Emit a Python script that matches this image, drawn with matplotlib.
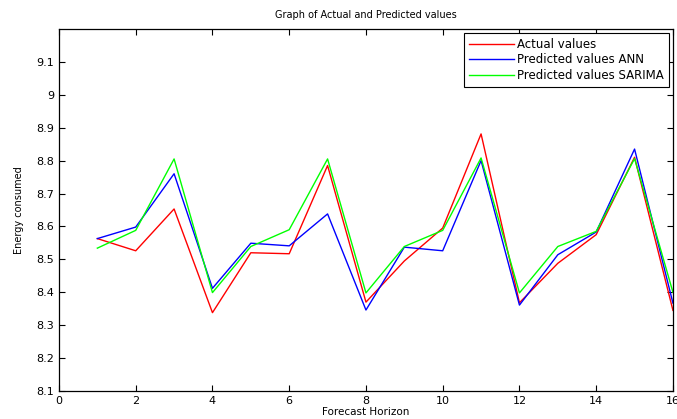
import matplotlib
matplotlib.use("Agg")
import matplotlib.pyplot as plt

horizon = list(range(1, 17))
actual = [8.563, 8.526, 8.653, 8.338, 8.520, 8.517, 8.785, 8.370, 8.495, 8.595,
          8.881, 8.368, 8.488, 8.575, 8.810, 8.345]
ann = [8.563, 8.598, 8.760, 8.412, 8.549, 8.541, 8.638, 8.346, 8.537, 8.526,
       8.800, 8.361, 8.514, 8.583, 8.835, 8.367]
sarima = [8.534, 8.588, 8.805, 8.399, 8.539, 8.590, 8.805, 8.398, 8.539, 8.588,
          8.808, 8.398, 8.539, 8.585, 8.806, 8.400]

plt.rcParams['font.family'] = ['DejaVu Sans']

fig = plt.figure(figsize=(6.77, 4.19), dpi=100)
ax = fig.add_axes([0.0871, 0.0668, 0.9069, 0.8642])

ax.plot(horizon, actual, color='#ff0000', lw=1.0, label='Actual values')
ax.plot(horizon, ann, color='#0000ff', lw=1.0, label='Predicted values ANN')
ax.plot(horizon, sarima, color='#00ff00', lw=1.0, label='Predicted values SARIMA')

ax.set_xlim(0, 16)
ax.set_ylim(8.1, 9.2)
ax.set_xticks(range(0, 17, 2))
ax.set_yticks([8.1, 8.2, 8.3, 8.4, 8.5, 8.6, 8.7, 8.8, 8.9, 9.0, 9.1])
ax.set_yticklabels(['8.1', '8.2', '8.3', '8.4', '8.5', '8.6', '8.7', '8.8', '8.9', '9', '9.1'])
ax.tick_params(direction='in', top=True, right=True, length=4, width=0.8, labelsize=8)
for s in ax.spines.values():
    s.set_linewidth(0.9)

ax.set_title('Graph of Actual and Predicted values', fontsize=7, pad=8)
ax.set_xlabel('Forecast Horizon', fontsize=7.5, labelpad=1)
ax.set_ylabel('Energy consumed', fontsize=7, labelpad=9)

leg = ax.legend(loc='upper right', fontsize=8.5, fancybox=False, framealpha=1,
                edgecolor='black', borderaxespad=0.35, handlelength=3.8,
                labelspacing=0.22, borderpad=0.4, handletextpad=0.3)
leg.get_frame().set_linewidth(0.8)

fig.savefig('out.png', dpi=100)
